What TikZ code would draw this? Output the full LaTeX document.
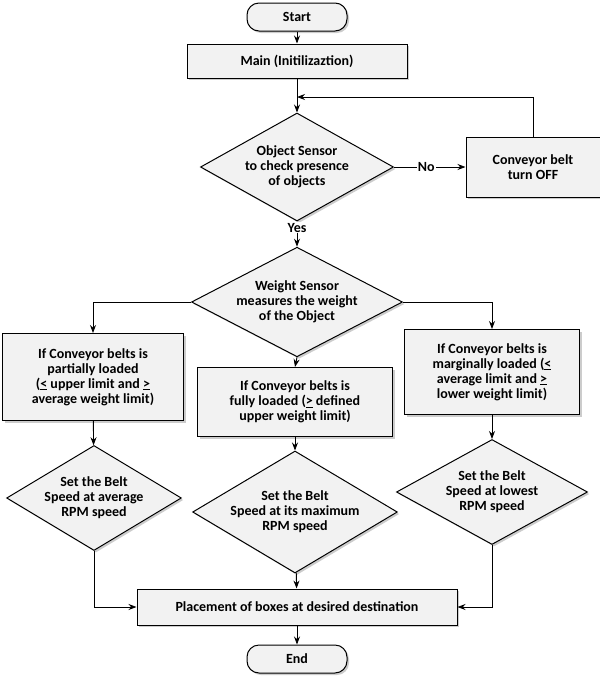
\documentclass[tikz,border=0pt]{standalone}
\usepackage{fontspec}
\setmainfont{Carlito}
\usetikzlibrary{shapes.geometric,arrows.meta,shadows}
\begin{document}
\begin{tikzpicture}[x=1pt,y=-1pt,font=\bfseries\fontsize{14}{15}\selectfont,
 base/.style={draw=black,line width=1pt,fill=gray!10,drop shadow={shadow xshift=2pt,shadow yshift=-2pt,opacity=0.4},align=center,inner sep=1pt},
 box/.style={base,rectangle,minimum height=#1},
 term/.style={base,rounded corners=12pt,minimum width=100pt,minimum height=28pt},
 dia/.style={base,diamond,aspect=1.8,inner sep=0pt},
 arr/.style={draw,line width=0.9pt,-{Stealth[length=8pt,width=6pt]}},
 ln/.style={draw,line width=0.9pt}]
\useasboundingbox (0,0) rectangle (600,678);
\node[term] (start) at (297,17) {Start};
\node[box=34pt,minimum width=220pt] (main) at (297,61) {Main (Initilizaztion)};
\node[dia,minimum width=193pt,minimum height=108pt] (d1) at (297,167) {Object Sensor\\to check presence\\of objects};
\node[box=60pt,minimum width=134pt] (off) at (533,167) {Conveyor belt\\turn OFF};
\node[dia,minimum width=211pt,minimum height=105pt] (d2) at (297,302) {Weight Sensor\\measures the weight\\of the Object};
\node[box=87pt,minimum width=181pt] (bl) at (93,377) {If Conveyor belts is\\partially loaded\\(\underline{<} upper limit and \underline{>}\\average weight limit)};
\node[box=69pt,minimum width=195pt] (bm) at (295,402) {If Conveyor belts is\\fully loaded (\underline{>} defined\\upper weight limit)};
\node[box=85pt,minimum width=175pt] (br) at (492,372) {If Conveyor belts is\\marginally loaded (\underline{<}\\average limit and \underline{>}\\lower weight limit)};
\node[dia,minimum width=172pt,minimum height=105pt] (dl) at (94,498) {Set the Belt\\Speed at average\\RPM speed};
\node[dia,minimum width=190pt,minimum height=122pt] (dm) at (295,512) {Set the Belt\\Speed at its maximum\\RPM speed};
\node[dia,minimum width=191pt,minimum height=105pt] (dr) at (492,492) {Set the Belt\\Speed at lowest\\RPM speed};
\node[box=36pt,minimum width=320pt] (place) at (297,607) {Placement of boxes at desired destination};
\node[term] (end) at (297,659) {End};
\coordinate (loop) at (297,97);
\draw[arr] (start) -- (main);
\draw[arr] (main) -- (d1);
\draw[arr] (d1) -- node[fill=white,inner sep=1pt,pos=0.45]{No} (off);
\draw[arr] (off.north) |- (loop);
\draw[arr] (d1) -- node[fill=white,inner sep=1pt,pos=0.25]{Yes} (d2);
\draw[arr] (d2.west) -| (bl.north);
\draw[arr] (d2.east) -| (br.north);
\draw[arr] (d2.south) -- (bm.north);
\draw[arr] (bl) -- (dl);
\draw[arr] (bm) -- (dm);
\draw[arr] (br) -- (dr);
\draw[arr] (dl.south) |- (place.west);
\draw[arr] (dr.south) |- (place.east);
\draw[arr] (dm) -- (place);
\draw[arr] (place) -- (end);
\end{tikzpicture}
\end{document}
